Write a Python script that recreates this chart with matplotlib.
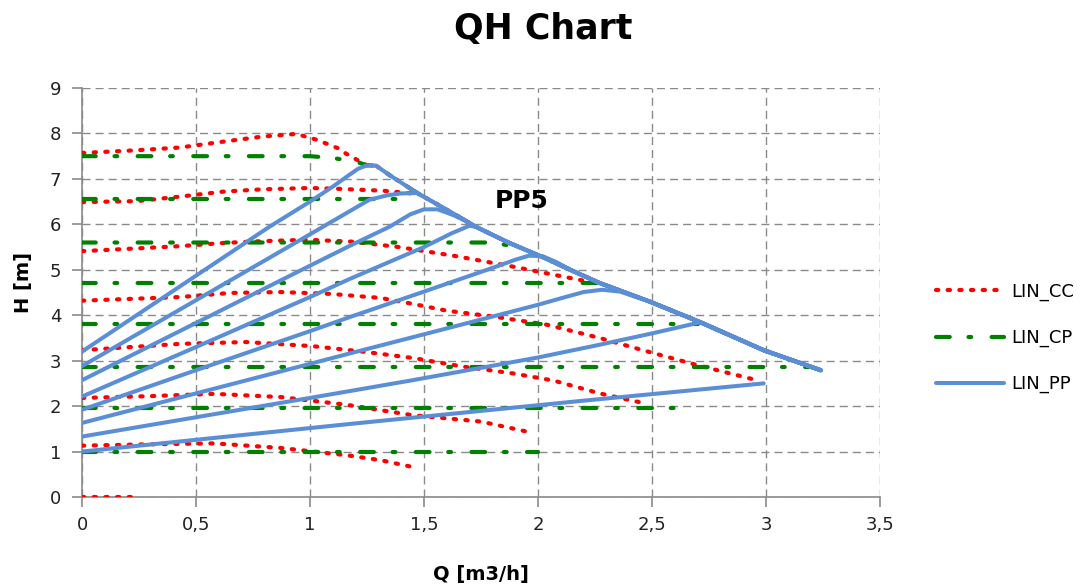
import matplotlib
matplotlib.use("Agg")
import matplotlib.pyplot as plt
from matplotlib.ticker import FixedLocator, FuncFormatter
from matplotlib.lines import Line2D

# ---------------- data ----------------
# common max curve (envelope) that the upper lines follow down to the end
ENV_Q = [1.25, 1.29, 1.35, 1.47, 1.60, 1.73, 1.87, 2.02, 2.15, 2.27, 2.49, 2.71, 2.99, 3.24]
ENV_H = [7.30, 7.29, 7.08, 6.69, 6.32, 5.94, 5.60, 5.28, 4.98, 4.71, 4.30, 3.85, 3.23, 2.79]

# LIN_CC (constant curve) series
CC_A_Q = [0, 0.24, 0.43, 0.62, 0.79, 0.94, 1.03, 1.12, 1.16, 1.22]
CC_A_H = [7.57, 7.63, 7.69, 7.82, 7.93, 7.99, 7.86, 7.68, 7.55, 7.38]
CC_B_Q = [0, 0.24, 0.43, 0.62, 0.79, 1.00, 1.13, 1.32, 1.43, 1.47]
CC_B_H = [6.49, 6.51, 6.61, 6.72, 6.77, 6.80, 6.78, 6.74, 6.69, 6.66]
CC_C_Q = [0, 0.24, 0.43, 0.62, 0.79, 0.99, 1.18, 1.39, 1.64, 1.90, 2.04, 2.20, 2.27]
CC_C_H = [5.41, 5.47, 5.52, 5.59, 5.63, 5.66, 5.62, 5.50, 5.30, 5.06, 4.92, 4.76, 4.71]
CC_D_Q = [0, 0.43, 0.65, 0.87, 1.09, 1.31, 1.45, 1.60, 1.82, 2.04, 2.27, 2.46, 2.70, 2.96]
CC_D_H = [4.32, 4.40, 4.49, 4.51, 4.47, 4.38, 4.25, 4.10, 3.96, 3.79, 3.50, 3.23, 2.90, 2.57]
CC_E_Q = [0, 0.43, 0.72, 1.01, 1.23, 1.45, 1.67, 1.89, 2.07, 2.27, 2.46]
CC_E_H = [3.23, 3.37, 3.41, 3.32, 3.20, 3.06, 2.87, 2.72, 2.56, 2.28, 2.07]
CC_F_Q = [0, 0.30, 0.58, 0.87, 1.16, 1.45, 1.75, 1.96]
CC_F_H = [2.18, 2.22, 2.27, 2.20, 2.03, 1.80, 1.66, 1.43]
CC_G_Q = [0, 0.30, 0.58, 0.87, 1.16, 1.31, 1.45]
CC_G_H = [1.13, 1.16, 1.18, 1.08, 0.92, 0.81, 0.66]
CC_H_Q = [0, 0.25]
CC_H_H = [0.0, 0.0]

# LIN_CP (constant pressure) series
CP1_Q = [0, 1.00, 1.10, 1.20]
CP1_H = [7.50, 7.50, 7.46, 7.38]
CP2_Q = [0, 1.45]
CP2_H = [6.55, 6.55]
CP3_Q = [0, 1.80, 1.89]
CP3_H = [5.60, 5.60, 5.52]
CP4_Q = [0, 2.30]
CP4_H = [4.70, 4.70]
CP5_Q = [0, 2.70]
CP5_H = [3.80, 3.80]
CP6_Q = [0, 3.20]
CP6_H = [2.85, 2.85]
CP7_Q = [0, 2.65]
CP7_H = [1.95, 1.95]
CP8_Q = [0, 2.00]
CP8_H = [1.00, 1.00]

# LIN_PP (proportional pressure) series
PP1_Q = [0, 0.50, 0.82, 1.00, 1.10, 1.17, 1.21]
PP1_H = [3.20, 4.87, 5.94, 6.50, 6.83, 7.08, 7.22]
PP2_Q = [0, 0.50, 1.00, 1.26, 1.34, 1.40]
PP2_H = [2.88, 4.33, 5.78, 6.54, 6.64, 6.68]
PP3_Q = [0, 0.50, 1.00, 1.18, 1.35, 1.44, 1.50, 1.56, 1.63, 1.68]
PP3_H = [2.57, 3.83, 5.09, 5.54, 5.95, 6.22, 6.33, 6.33, 6.20, 6.08]
PP4_Q = [0, 0.50, 1.00, 1.175, 1.50, 1.62, 1.70]
PP4_H = [2.21, 3.30, 4.40, 4.80, 5.50, 5.80, 5.97]
PP5_Q = [0, 0.50, 1.00, 1.175, 1.50, 1.80, 1.90, 1.96, 2.02, 2.08]
PP5_H = [1.92, 2.79, 3.65, 3.96, 4.52, 5.04, 5.22, 5.31, 5.30, 5.17]
PP6_Q = [0, 0.50, 1.00, 1.175, 1.50, 2.00, 2.12, 2.20, 2.28, 2.36]
PP6_H = [1.63, 2.28, 2.93, 3.16, 3.58, 4.23, 4.40, 4.51, 4.56, 4.52]
PP7_Q = [0, 1.00, 1.45, 2.00, 2.27, 2.50, 2.70]
PP7_H = [1.33, 2.18, 2.57, 3.07, 3.35, 3.60, 3.83]
PP8_Q = [0, 1.18, 2.18, 2.99]
PP8_H = [1.00, 1.61, 2.11, 2.50]

X_TICKS = [0, 0.5, 1, 1.5, 2, 2.5, 3, 3.5]
Y_TICKS = [0, 1, 2, 3, 4, 5, 6, 7, 8, 9]
TITLE = "QH Chart"
X_LABEL = "Q [m3/h]"
Y_LABEL = "H [m]"
ANNOT = "PP5"
ANNOT_POS = (1.93, 6.52)
LEGEND_LABELS = ["LIN_CC", "LIN_CP", "LIN_PP"]


def follow_env(q, h):
    """append the part of the max curve lying beyond the series' last point"""
    qq, hh = list(q), list(h)
    for eq, eh in zip(ENV_Q, ENV_H):
        if eq > q[-1]:
            qq.append(eq)
            hh.append(eh)
    return qq, hh


plt.rcParams['font.family'] = ['DejaVu Sans']

fig = plt.figure(figsize=(10.92, 5.87), dpi=100)
ax = fig.add_axes([82 / 1092, 90 / 587, (880 - 82) / 1092, (497 - 88) / 587])

RED = "#FF0000"
GREEN = "#008000"
BLUE = "#5A8ED6"

cc_style = dict(color=RED, lw=3.0, linestyle=(0, (0.55, 2.25)),
                dash_capstyle='round', zorder=3)
cp_style = dict(color=GREEN, lw=3.0, linestyle=(0, (3.3, 4.5, 0.65, 4.9)),
                dash_capstyle='round', zorder=4)
pp_style = dict(color=BLUE, lw=2.9, solid_capstyle='round',
                solid_joinstyle='round', zorder=5)

cc_series = [follow_env(CC_A_Q, CC_A_H), (CC_B_Q, CC_B_H), (CC_C_Q, CC_C_H),
             (CC_D_Q, CC_D_H), (CC_E_Q, CC_E_H), (CC_F_Q, CC_F_H),
             (CC_G_Q, CC_G_H), (CC_H_Q, CC_H_H)]
cp_series = [follow_env(CP1_Q, CP1_H), (CP2_Q, CP2_H), (CP3_Q, CP3_H),
             (CP4_Q, CP4_H), (CP5_Q, CP5_H), (CP6_Q, CP6_H), (CP7_Q, CP7_H),
             (CP8_Q, CP8_H)]
pp_series = [follow_env(PP1_Q, PP1_H), follow_env(PP2_Q, PP2_H),
             follow_env(PP3_Q, PP3_H), follow_env(PP4_Q, PP4_H),
             follow_env(PP5_Q, PP5_H), follow_env(PP6_Q, PP6_H),
             follow_env(PP7_Q, PP7_H), (PP8_Q, PP8_H)]

for q, h in cc_series:
    ax.plot(q, h, **cc_style)
for q, h in cp_series:
    ax.plot(q, h, **cp_style)
for q, h in pp_series:
    ax.plot(q, h, **pp_style)

ax.set_xlim(0, 3.5)
ax.set_ylim(0, 9)
ax.xaxis.set_major_locator(FixedLocator(X_TICKS))
ax.yaxis.set_major_locator(FixedLocator(Y_TICKS))
fmt = FuncFormatter(lambda v, p: ("%g" % v).replace(".", ","))
ax.xaxis.set_major_formatter(fmt)
ax.yaxis.set_major_formatter(fmt)

ax.grid(True, color="#8a8a8a", lw=1.0, linestyle=(0, (5.8, 3.6)), zorder=1)
ax.set_axisbelow(True)
for s in ("top", "right"):
    ax.spines[s].set_visible(False)
for s in ("left", "bottom"):
    ax.spines[s].set_color("#8a8a8a")
    ax.spines[s].set_linewidth(1.2)
ax.tick_params(axis='both', direction='out', length=7, width=1.2,
               color="#8a8a8a", labelsize=13, labelcolor="#222222")
ax.tick_params(axis='y', pad=8)
ax.tick_params(axis='x', pad=7)

ax.set_xlabel(X_LABEL, fontsize=14, fontweight='bold', labelpad=22)
ax.set_ylabel(Y_LABEL, fontsize=14, fontweight='bold')
ax.yaxis.set_label_coords(-0.061, 0.525)
fig.text(0.497, 0.951, TITLE, ha='center', va='center', fontsize=25,
         fontweight='bold')
ax.text(ANNOT_POS[0], ANNOT_POS[1], ANNOT, ha='center', va='center',
        fontsize=18, fontweight='bold', zorder=6)

handles = [Line2D([], [], **cc_style), Line2D([], [], **cp_style),
           Line2D([], [], **pp_style)]
fig.legend(handles, LEGEND_LABELS, loc='center left',
           bbox_to_anchor=(0.857, 0.424), frameon=False, fontsize=13,
           handlelength=3.8, handletextpad=0.4, labelspacing=1.55,
           borderaxespad=0, borderpad=0)

fig.savefig("out.png", dpi=100)
